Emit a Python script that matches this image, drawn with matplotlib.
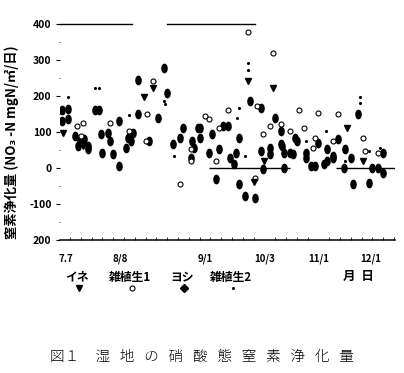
import matplotlib
matplotlib.use("Agg")
import matplotlib.pyplot as plt
from matplotlib.markers import MarkerStyle
from matplotlib.transforms import Affine2D
from matplotlib.ticker import FixedLocator, MultipleLocator

plt.rcParams['font.family'] = ['Noto Sans CJK JP', 'DejaVu Sans']

# ---- data (x = days on chart scale, y = mg N / m2 / day) ----
yoshi = [(-4.5, 160), (-1, 165), (-4.5, 130), (-1, 137), (3, 90), (5.5, 76), (8, 81), (10, 62),
         (4.5, 62), (10, 53), (14, 162), (16, 162), (17, 95), (18, 42), (21, 98), (22, 76),
         (24, 39), (27, 131), (27, 6), (32, 84), (31, 56), (34, 76), (35, 98), (38, 244),
         (38, 151), (44, 76), (49, 140), (52, 277), (54, 207), (57, 67), (61, 84), (63, 112),
         (67, 28), (68, 76), (69, 56), (71, 112), (72, 112), (72, 84), (77, 42), (79, 95),
         (81, -31), (83, 53), (85, 118), (88, 118), (89, 28), (92, 42), (91, 11), (94, 84),
         (94, -45), (97, -78), (100, 187), (103, -84), (106, 168), (106, 48), (107, -3),
         (111, 56), (111, 39), (114, 140), (117, 103), (117, 67), (118, 62), (119, 0),
         (119, 42), (122, 42), (124, 39), (125, 84), (126, 76), (131, 42), (131, 28), (134, 6),
         (136, 6), (138, 70), (141, 11), (143, 20), (146, 28), (146, 34), (143, 53), (149, 81),
         (152, 0), (153, 53), (156, 28), (157, -45), (160, 151), (166, -42), (168, 0), (171, 0),
         (174, 42), (174, -14)]

zatsu1 = [(4, 117), (7, 126), (6, 88), (22, 126), (33, 103), (42, 76), (43, 151), (46, 243),
          (61, -45), (67, 20), (67, 53), (75, 145), (77, 137), (81, 20), (83, 112), (88, 160),
          (99, 378), (103, -28), (104, 173), (107, 95), (111, 117), (113, 319), (117, 123),
          (122, 103), (127, 160), (130, 112), (135, 56), (136, 84), (138, 154), (146, 76),
          (149, 151), (163, 84), (164, 48), (171, 42)]

ine = [(-4, 98), (7, 62), (41, 196), (46, 221), (99, 243), (102, -40), (108, 20), (113, 221),
       (154, 112), (163, 20)]

zatsu2 = [(-1, 196), (14, 221), (16, 221), (33, 146), (52, 187), (53, 179), (58, 34), (93, 140),
          (94, 168), (97, 34), (99, 291), (99, 271), (131, 76), (142, 103), (153, 20), (161, 196),
          (161, 180), (166, 48), (172, 56)]

x_tick_pos = [-2.2, 27.8, 75, 108, 138, 167]
x_tick_labels = ["7.7", "8/8", "9/1", "10/3", "11/1", "12/1"]
y_tick_pos = [-200, -100, 0, 100, 200, 300, 400]
y_tick_labels = ["200", "-100", "0", "100", "200", "300", "400"]

legend_names = ["イネ", "雑植生1", "ヨシ", "雑植生2"]

W, H = 404, 373
fig = plt.figure(figsize=(W / 100, H / 100), dpi=100)
ax = fig.add_axes([60 / W, 1 - 240 / H, 335 / W, 216 / H])
ax.set_xlim(-5.6, 180.6)
ax.set_ylim(-200, 400)

ellipse = MarkerStyle('o', transform=Affine2D().scale(0.62, 1.0))


def xy(series):
    return [p[0] for p in series], [p[1] for p in series]


ax.plot(*xy(yoshi), ls='none', marker=ellipse, ms=6.0, color='black', mec='black')
ax.plot(*xy(zatsu1), ls='none', marker='o', ms=3.6, mfc='white', mec='black', mew=0.8)
ax.plot(*xy(ine), ls='none', marker='v', ms=3.8, color='black')
ax.plot(*xy(zatsu2), ls='none', marker='.', ms=2.5, color='black')

# reference lines
ax.hlines(0, 77, 122, color='black', lw=1)
ax.hlines(0, 148, 180.6, color='black', lw=1)
ax.plot([0, 0.215], [1, 1], transform=ax.transAxes, color='black', lw=1, clip_on=False)
ax.plot([0.319, 0.582], [1, 1], transform=ax.transAxes, color='black', lw=1, clip_on=False)

for s in ['top', 'right', 'left']:
    ax.spines[s].set_visible(False)
ax.spines['bottom'].set_linewidth(1.1)

ax.xaxis.set_major_locator(FixedLocator(x_tick_pos))
ax.set_xticklabels(x_tick_labels)
ax.xaxis.set_minor_locator(MultipleLocator(6))
ax.tick_params(axis='x', which='major', length=0, pad=10, labelsize=7)
ax.tick_params(axis='x', which='minor', direction='in', length=2, width=0.6)
ax.yaxis.set_major_locator(FixedLocator(y_tick_pos))
ax.set_yticklabels(y_tick_labels)
ax.yaxis.set_minor_locator(MultipleLocator(50))
ax.tick_params(axis='y', which='major', length=3, width=0.8, pad=3, labelsize=7.5)
ax.tick_params(axis='y', which='minor', length=1, width=0.6)
for lab in ax.get_xticklabels() + ax.get_yticklabels():
    lab.set_fontweight('bold')

# y label
fig.text(12 / W, 1 - 142 / H, "窒素浄化量 (NO₃ -N mgN/㎡/日)", rotation=90,
         ha='center', va='center', fontsize=9.5, fontweight='bold')

# legend (overlay axes in pixel coordinates)
ov = fig.add_axes([0, 0, 1, 1], facecolor='none')
ov.set_xlim(0, W)
ov.set_ylim(H, 0)
ov.axis('off')
leg_x = [77, 130, 182, 231]
leg_m = [dict(marker='v', ms=3.8, color='black'),
         dict(marker='o', ms=3.6, mfc='white', mec='black', mew=0.8),
         dict(marker='D', ms=4.5, color='black'),
         dict(marker='.', ms=2.5, color='black')]
for name, lx, mk in zip(legend_names, leg_x, leg_m):
    ov.text(lx, 277, name, ha='center', va='center', fontsize=8.5, fontweight='bold')
    ov.plot([lx + 2], [288], ls='none', **mk)
ov.text(358, 276, "月  日", ha='center', va='center', fontsize=9, fontweight='bold')

# caption
ov.text(50, 357, "図１     湿   地   の   硝   酸   態   窒   素   浄   化   量", ha='left', va='center',
        fontsize=10.5, fontweight='light')

fig.savefig("out.png", dpi=100)
